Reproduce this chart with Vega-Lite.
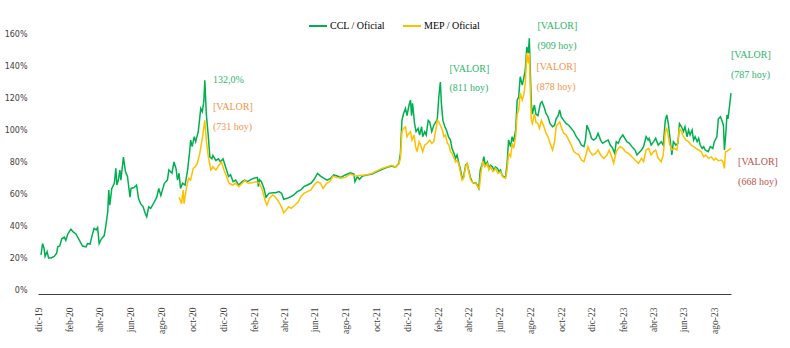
{
"$schema": "https://vega.github.io/schema/vega-lite/v6.json",
"width": 693,
"height": 256,
"autosize": {"type": "none"},
"padding": {"left": 38, "top": 34, "right": 59, "bottom": 58},
"background": "white",
"config": {"view": {"stroke": null}, "font": "Liberation Serif", "axis": {"labelOverlap": false}},
"datasets": {
"ccl": [
{"d":"2019-12-07","v":0.219},{"d":"2019-12-10","v":0.29},{"d":"2019-12-13","v":0.26},{"d":"2019-12-15","v":0.21},{"d":"2019-12-19","v":0.24},{"d":"2019-12-22","v":0.20},{"d":"2019-12-27","v":0.20},
{"d":"2020-01-02","v":0.21},{"d":"2020-01-07","v":0.23},{"d":"2020-01-09","v":0.27},{"d":"2020-01-13","v":0.275},{"d":"2020-01-17","v":0.32},{"d":"2020-01-22","v":0.33},{"d":"2020-01-25","v":0.31},{"d":"2020-01-29","v":0.35},
{"d":"2020-02-04","v":0.38},{"d":"2020-02-08","v":0.365},{"d":"2020-02-14","v":0.35},{"d":"2020-02-21","v":0.31},{"d":"2020-02-27","v":0.275},
{"d":"2020-03-05","v":0.27},{"d":"2020-03-08","v":0.29},{"d":"2020-03-13","v":0.287},{"d":"2020-03-17","v":0.34},{"d":"2020-03-21","v":0.385},{"d":"2020-03-25","v":0.375},{"d":"2020-03-28","v":0.39},{"d":"2020-03-31","v":0.29},
{"d":"2020-04-04","v":0.317},{"d":"2020-04-10","v":0.34},{"d":"2020-04-13","v":0.396},{"d":"2020-04-17","v":0.49},{"d":"2020-04-19","v":0.625},{"d":"2020-04-21","v":0.53},{"d":"2020-04-25","v":0.635},{"d":"2020-04-30","v":0.667},
{"d":"2020-05-03","v":0.76},{"d":"2020-05-05","v":0.656},{"d":"2020-05-08","v":0.687},{"d":"2020-05-11","v":0.75},{"d":"2020-05-13","v":0.687},{"d":"2020-05-18","v":0.83},{"d":"2020-05-22","v":0.74},{"d":"2020-05-26","v":0.71},{"d":"2020-05-31","v":0.58},
{"d":"2020-06-02","v":0.635},{"d":"2020-06-08","v":0.64},{"d":"2020-06-13","v":0.656},{"d":"2020-06-17","v":0.57},{"d":"2020-06-21","v":0.54},{"d":"2020-06-26","v":0.52},{"d":"2020-06-30","v":0.48},
{"d":"2020-07-03","v":0.458},{"d":"2020-07-07","v":0.52},{"d":"2020-07-11","v":0.51},{"d":"2020-07-18","v":0.55},{"d":"2020-07-23","v":0.58},{"d":"2020-07-27","v":0.635},{"d":"2020-07-31","v":0.59},
{"d":"2020-08-07","v":0.667},{"d":"2020-08-13","v":0.687},{"d":"2020-08-16","v":0.75},{"d":"2020-08-22","v":0.73},{"d":"2020-08-26","v":0.80},{"d":"2020-08-30","v":0.76},
{"d":"2020-09-02","v":0.687},{"d":"2020-09-05","v":0.73},{"d":"2020-09-08","v":0.635},{"d":"2020-09-12","v":0.667},{"d":"2020-09-17","v":0.656},{"d":"2020-09-22","v":0.75},{"d":"2020-09-26","v":0.865},{"d":"2020-09-28","v":0.937},
{"d":"2020-10-01","v":0.896},{"d":"2020-10-05","v":0.958},{"d":"2020-10-08","v":0.927},{"d":"2020-10-13","v":0.99},{"d":"2020-10-18","v":1.135},{"d":"2020-10-21","v":1.115},{"d":"2020-10-24","v":1.177},{"d":"2020-10-26","v":1.31},{"d":"2020-10-29","v":1.10},
{"d":"2020-11-02","v":0.958},{"d":"2020-11-05","v":0.83},{"d":"2020-11-09","v":0.82},{"d":"2020-11-11","v":0.84},{"d":"2020-11-17","v":0.81},{"d":"2020-11-22","v":0.82},{"d":"2020-11-26","v":0.80},
{"d":"2020-12-01","v":0.82},{"d":"2020-12-06","v":0.77},{"d":"2020-12-12","v":0.71},{"d":"2020-12-16","v":0.72},{"d":"2020-12-21","v":0.677},{"d":"2020-12-26","v":0.687},
{"d":"2021-01-01","v":0.656},{"d":"2021-01-08","v":0.677},{"d":"2021-01-13","v":0.687},{"d":"2021-01-18","v":0.677},{"d":"2021-01-25","v":0.69},{"d":"2021-01-31","v":0.698},
{"d":"2021-02-07","v":0.704},{"d":"2021-02-09","v":0.646},{"d":"2021-02-11","v":0.69},{"d":"2021-02-15","v":0.677},{"d":"2021-02-20","v":0.635},{"d":"2021-02-24","v":0.58},
{"d":"2021-03-02","v":0.604},{"d":"2021-03-09","v":0.608},{"d":"2021-03-15","v":0.608},{"d":"2021-03-22","v":0.615},{"d":"2021-03-27","v":0.604},{"d":"2021-03-31","v":0.567},
{"d":"2021-04-07","v":0.573},{"d":"2021-04-14","v":0.583},{"d":"2021-04-20","v":0.594},{"d":"2021-04-27","v":0.615},
{"d":"2021-05-04","v":0.625},{"d":"2021-05-10","v":0.646},{"d":"2021-05-17","v":0.656},{"d":"2021-05-24","v":0.667},{"d":"2021-05-30","v":0.69},
{"d":"2021-06-06","v":0.729},{"d":"2021-06-12","v":0.712},{"d":"2021-06-19","v":0.698},{"d":"2021-06-25","v":0.687},
{"d":"2021-07-02","v":0.698},{"d":"2021-07-08","v":0.719},{"d":"2021-07-15","v":0.712},{"d":"2021-07-22","v":0.704},{"d":"2021-07-31","v":0.719},
{"d":"2021-08-10","v":0.733},{"d":"2021-08-17","v":0.725},{"d":"2021-08-19","v":0.677},{"d":"2021-08-24","v":0.708},{"d":"2021-08-28","v":0.692},
{"d":"2021-09-03","v":0.712},{"d":"2021-09-12","v":0.719},{"d":"2021-09-22","v":0.725},
{"d":"2021-10-02","v":0.74},{"d":"2021-10-12","v":0.754},{"d":"2021-10-22","v":0.767},{"d":"2021-10-31","v":0.775},
{"d":"2021-11-07","v":0.767},{"d":"2021-11-14","v":0.792},{"d":"2021-11-17","v":0.854},{"d":"2021-11-20","v":1.06},{"d":"2021-11-23","v":1.10},{"d":"2021-11-27","v":1.135},{"d":"2021-11-30","v":1.09},
{"d":"2021-12-04","v":1.156},{"d":"2021-12-07","v":1.187},{"d":"2021-12-09","v":1.09},{"d":"2021-12-11","v":1.167},{"d":"2021-12-15","v":1.04},{"d":"2021-12-18","v":0.99},{"d":"2021-12-22","v":1.01},{"d":"2021-12-25","v":0.969},{"d":"2021-12-29","v":1.02},{"d":"2021-12-31","v":0.958},
{"d":"2022-01-04","v":0.99},{"d":"2022-01-07","v":0.969},{"d":"2022-01-11","v":1.06},{"d":"2022-01-14","v":1.05},{"d":"2022-01-18","v":0.99},{"d":"2022-01-22","v":1.03},{"d":"2022-01-26","v":1.05},{"d":"2022-01-29","v":1.07},
{"d":"2022-02-01","v":1.208},{"d":"2022-02-04","v":1.30},{"d":"2022-02-06","v":1.167},{"d":"2022-02-09","v":1.06},{"d":"2022-02-13","v":1.02},{"d":"2022-02-16","v":1.00},{"d":"2022-02-20","v":0.958},{"d":"2022-02-24","v":0.937},{"d":"2022-02-27","v":0.885},
{"d":"2022-03-03","v":0.854},{"d":"2022-03-06","v":0.823},{"d":"2022-03-09","v":0.844},{"d":"2022-03-12","v":0.80},{"d":"2022-03-16","v":0.75},{"d":"2022-03-19","v":0.698},{"d":"2022-03-22","v":0.708},{"d":"2022-03-26","v":0.78},{"d":"2022-03-29","v":0.79},
{"d":"2022-04-01","v":0.75},{"d":"2022-04-05","v":0.698},{"d":"2022-04-08","v":0.677},{"d":"2022-04-11","v":0.667},{"d":"2022-04-15","v":0.671},{"d":"2022-04-18","v":0.656},{"d":"2022-04-21","v":0.635},{"d":"2022-04-24","v":0.75},{"d":"2022-04-28","v":0.79},
{"d":"2022-05-01","v":0.833},{"d":"2022-05-04","v":0.78},{"d":"2022-05-08","v":0.80},{"d":"2022-05-11","v":0.76},{"d":"2022-05-14","v":0.78},{"d":"2022-05-18","v":0.77},{"d":"2022-05-21","v":0.75},{"d":"2022-05-24","v":0.77},{"d":"2022-05-28","v":0.76},{"d":"2022-05-31","v":0.74},
{"d":"2022-06-03","v":0.75},{"d":"2022-06-06","v":0.719},{"d":"2022-06-09","v":0.708},{"d":"2022-06-13","v":0.708},{"d":"2022-06-16","v":0.79},{"d":"2022-06-19","v":0.937},{"d":"2022-06-23","v":0.896},{"d":"2022-06-26","v":0.958},{"d":"2022-06-29","v":0.927},
{"d":"2022-07-03","v":1.00},{"d":"2022-07-06","v":1.187},{"d":"2022-07-09","v":1.208},{"d":"2022-07-12","v":1.333},{"d":"2022-07-16","v":1.28},{"d":"2022-07-19","v":1.323},{"d":"2022-07-22","v":1.375},{"d":"2022-07-25","v":1.52},{"d":"2022-07-28","v":1.48},{"d":"2022-07-30","v":1.573},
{"d":"2022-08-01","v":1.354},{"d":"2022-08-03","v":1.167},{"d":"2022-08-05","v":1.10},{"d":"2022-08-09","v":1.156},{"d":"2022-08-12","v":1.10},{"d":"2022-08-16","v":1.09},{"d":"2022-08-21","v":1.167},{"d":"2022-08-24","v":1.177},{"d":"2022-08-28","v":1.146},
{"d":"2022-09-01","v":1.104},{"d":"2022-09-05","v":1.083},{"d":"2022-09-09","v":1.04},{"d":"2022-09-14","v":1.02},{"d":"2022-09-18","v":1.03},{"d":"2022-09-21","v":1.07},{"d":"2022-09-25","v":1.09},{"d":"2022-09-28","v":1.125},
{"d":"2022-10-01","v":1.083},{"d":"2022-10-06","v":1.06},{"d":"2022-10-11","v":1.04},{"d":"2022-10-16","v":1.03},{"d":"2022-10-21","v":1.01},{"d":"2022-10-26","v":0.99},{"d":"2022-10-31","v":0.958},
{"d":"2022-11-05","v":0.937},{"d":"2022-11-10","v":0.906},{"d":"2022-11-15","v":0.896},{"d":"2022-11-18","v":0.937},{"d":"2022-11-21","v":1.03},{"d":"2022-11-26","v":0.99},{"d":"2022-11-30","v":0.948},
{"d":"2022-12-04","v":0.937},{"d":"2022-12-09","v":0.948},{"d":"2022-12-13","v":0.979},{"d":"2022-12-18","v":0.937},{"d":"2022-12-22","v":0.917},{"d":"2022-12-27","v":0.927},
{"d":"2023-01-02","v":0.937},{"d":"2023-01-06","v":0.906},{"d":"2023-01-11","v":0.885},{"d":"2023-01-15","v":0.854},{"d":"2023-01-18","v":0.927},{"d":"2023-01-22","v":0.917},{"d":"2023-01-26","v":0.948},{"d":"2023-01-31","v":0.969},
{"d":"2023-02-04","v":0.948},{"d":"2023-02-08","v":0.927},{"d":"2023-02-13","v":0.917},{"d":"2023-02-18","v":0.896},{"d":"2023-02-24","v":0.875},{"d":"2023-02-28","v":0.844},
{"d":"2023-03-03","v":0.854},{"d":"2023-03-09","v":0.875},{"d":"2023-03-13","v":0.896},{"d":"2023-03-18","v":0.958},{"d":"2023-03-22","v":0.937},{"d":"2023-03-24","v":0.948},{"d":"2023-03-28","v":0.906},
{"d":"2023-04-02","v":0.927},{"d":"2023-04-06","v":0.948},{"d":"2023-04-11","v":0.906},{"d":"2023-04-17","v":0.927},{"d":"2023-04-21","v":0.906},{"d":"2023-04-25","v":1.06},{"d":"2023-04-28","v":1.094},
{"d":"2023-05-01","v":1.04},{"d":"2023-05-04","v":0.958},{"d":"2023-05-08","v":0.844},{"d":"2023-05-11","v":0.927},{"d":"2023-05-16","v":0.906},{"d":"2023-05-20","v":0.917},{"d":"2023-05-23","v":1.04},{"d":"2023-05-27","v":1.02},{"d":"2023-05-31","v":0.99},
{"d":"2023-06-03","v":1.02},{"d":"2023-06-07","v":0.958},{"d":"2023-06-10","v":1.00},{"d":"2023-06-13","v":0.969},{"d":"2023-06-17","v":1.00},{"d":"2023-06-20","v":0.937},{"d":"2023-06-23","v":0.958},{"d":"2023-06-27","v":0.927},{"d":"2023-06-30","v":0.948},
{"d":"2023-07-03","v":0.906},{"d":"2023-07-07","v":0.885},{"d":"2023-07-10","v":0.896},{"d":"2023-07-13","v":0.875},{"d":"2023-07-19","v":0.865},{"d":"2023-07-23","v":0.896},{"d":"2023-07-28","v":0.885},{"d":"2023-07-31","v":0.927},
{"d":"2023-08-05","v":0.958},{"d":"2023-08-08","v":1.07},{"d":"2023-08-12","v":1.083},{"d":"2023-08-15","v":1.06},{"d":"2023-08-18","v":1.03},{"d":"2023-08-20","v":0.875},{"d":"2023-08-23","v":0.99},{"d":"2023-08-25","v":1.094},{"d":"2023-08-27","v":1.07},{"d":"2023-08-30","v":1.146},{"d":"2023-09-02","v":1.23}
],
"mep": [
{"d":"2020-09-05","v":0.58},{"d":"2020-09-10","v":0.54},{"d":"2020-09-13","v":0.625},{"d":"2020-09-15","v":0.54},{"d":"2020-09-20","v":0.646},{"d":"2020-09-24","v":0.698},{"d":"2020-09-28","v":0.687},
{"d":"2020-10-03","v":0.76},{"d":"2020-10-07","v":0.77},{"d":"2020-10-11","v":0.79},{"d":"2020-10-16","v":0.854},{"d":"2020-10-20","v":0.927},{"d":"2020-10-23","v":0.99},{"d":"2020-10-26","v":1.06},{"d":"2020-10-29","v":0.937},
{"d":"2020-11-02","v":0.83},{"d":"2020-11-07","v":0.75},{"d":"2020-11-11","v":0.77},{"d":"2020-11-17","v":0.75},{"d":"2020-11-23","v":0.78},{"d":"2020-11-28","v":0.80},
{"d":"2020-12-03","v":0.75},{"d":"2020-12-08","v":0.71},{"d":"2020-12-13","v":0.667},{"d":"2020-12-20","v":0.656},{"d":"2020-12-26","v":0.667},
{"d":"2021-01-01","v":0.646},{"d":"2021-01-08","v":0.667},{"d":"2021-01-13","v":0.683},{"d":"2021-01-20","v":0.667},{"d":"2021-01-28","v":0.671},
{"d":"2021-02-05","v":0.677},{"d":"2021-02-11","v":0.667},{"d":"2021-02-17","v":0.625},{"d":"2021-02-22","v":0.562},{"d":"2021-02-26","v":0.53},
{"d":"2021-03-03","v":0.573},{"d":"2021-03-09","v":0.594},{"d":"2021-03-14","v":0.583},{"d":"2021-03-19","v":0.562},{"d":"2021-03-23","v":0.542},{"d":"2021-03-28","v":0.51},{"d":"2021-03-31","v":0.483},
{"d":"2021-04-05","v":0.50},{"d":"2021-04-10","v":0.52},{"d":"2021-04-15","v":0.51},{"d":"2021-04-22","v":0.53},{"d":"2021-04-29","v":0.552},
{"d":"2021-05-04","v":0.583},{"d":"2021-05-10","v":0.604},{"d":"2021-05-17","v":0.615},{"d":"2021-05-24","v":0.625},{"d":"2021-05-30","v":0.656},
{"d":"2021-06-06","v":0.677},{"d":"2021-06-12","v":0.667},{"d":"2021-06-17","v":0.635},{"d":"2021-06-24","v":0.667},{"d":"2021-06-30","v":0.677},
{"d":"2021-07-07","v":0.712},{"d":"2021-07-13","v":0.704},{"d":"2021-07-22","v":0.698},{"d":"2021-07-31","v":0.704},
{"d":"2021-08-10","v":0.725},{"d":"2021-08-20","v":0.712},{"d":"2021-09-03","v":0.717},{"d":"2021-09-12","v":0.72},{"d":"2021-09-22","v":0.73},
{"d":"2021-10-02","v":0.746},{"d":"2021-10-12","v":0.76},{"d":"2021-10-22","v":0.77},{"d":"2021-10-31","v":0.78},
{"d":"2021-11-07","v":0.767},{"d":"2021-11-14","v":0.787},{"d":"2021-11-17","v":0.823},{"d":"2021-11-20","v":0.99},{"d":"2021-11-23","v":1.01},{"d":"2021-11-27","v":1.02},{"d":"2021-11-30","v":0.958},
{"d":"2021-12-04","v":0.979},{"d":"2021-12-07","v":0.99},{"d":"2021-12-10","v":0.937},{"d":"2021-12-14","v":0.969},{"d":"2021-12-17","v":0.896},{"d":"2021-12-20","v":0.865},{"d":"2021-12-24","v":0.927},{"d":"2021-12-27","v":0.906},{"d":"2021-12-31","v":0.865},
{"d":"2022-01-04","v":0.906},{"d":"2022-01-09","v":0.917},{"d":"2022-01-14","v":0.937},{"d":"2022-01-18","v":0.917},{"d":"2022-01-22","v":0.927},{"d":"2022-01-26","v":1.00},{"d":"2022-01-29","v":1.06},
{"d":"2022-02-01","v":1.05},{"d":"2022-02-04","v":1.03},{"d":"2022-02-08","v":1.00},{"d":"2022-02-11","v":0.958},{"d":"2022-02-14","v":0.969},{"d":"2022-02-18","v":0.917},{"d":"2022-02-21","v":0.906},{"d":"2022-02-24","v":0.865},{"d":"2022-02-27","v":0.854},
{"d":"2022-03-03","v":0.823},{"d":"2022-03-06","v":0.80},{"d":"2022-03-09","v":0.812},{"d":"2022-03-12","v":0.79},{"d":"2022-03-16","v":0.729},{"d":"2022-03-19","v":0.687},{"d":"2022-03-22","v":0.698},{"d":"2022-03-26","v":0.77},{"d":"2022-03-29","v":0.79},
{"d":"2022-04-01","v":0.74},{"d":"2022-04-05","v":0.687},{"d":"2022-04-09","v":0.671},{"d":"2022-04-15","v":0.667},{"d":"2022-04-19","v":0.646},{"d":"2022-04-22","v":0.635},{"d":"2022-04-26","v":0.75},{"d":"2022-04-29","v":0.80},
{"d":"2022-05-03","v":0.77},{"d":"2022-05-08","v":0.79},{"d":"2022-05-11","v":0.75},{"d":"2022-05-14","v":0.77},{"d":"2022-05-19","v":0.74},{"d":"2022-05-24","v":0.76},{"d":"2022-05-29","v":0.729},
{"d":"2022-06-03","v":0.74},{"d":"2022-06-07","v":0.708},{"d":"2022-06-13","v":0.698},{"d":"2022-06-16","v":0.75},{"d":"2022-06-19","v":0.854},{"d":"2022-06-23","v":0.833},{"d":"2022-06-26","v":0.917},{"d":"2022-06-29","v":0.885},
{"d":"2022-07-03","v":0.958},{"d":"2022-07-06","v":1.10},{"d":"2022-07-09","v":1.125},{"d":"2022-07-12","v":1.23},{"d":"2022-07-16","v":1.187},{"d":"2022-07-19","v":1.219},{"d":"2022-07-22","v":1.29},{"d":"2022-07-25","v":1.48},{"d":"2022-07-28","v":1.417},{"d":"2022-07-30","v":1.48},
{"d":"2022-08-01","v":1.25},{"d":"2022-08-03","v":1.06},{"d":"2022-08-05","v":1.04},{"d":"2022-08-09","v":1.10},{"d":"2022-08-12","v":1.05},{"d":"2022-08-16","v":1.04},{"d":"2022-08-19","v":1.01},{"d":"2022-08-23","v":1.06},{"d":"2022-08-28","v":1.02},
{"d":"2022-09-01","v":0.98},{"d":"2022-09-05","v":0.958},{"d":"2022-09-09","v":0.917},{"d":"2022-09-14","v":0.875},{"d":"2022-09-18","v":0.927},{"d":"2022-09-21","v":1.02},{"d":"2022-09-25","v":1.04},{"d":"2022-09-28","v":1.05},
{"d":"2022-10-01","v":1.02},{"d":"2022-10-06","v":0.98},{"d":"2022-10-11","v":0.969},{"d":"2022-10-16","v":0.937},{"d":"2022-10-21","v":0.906},{"d":"2022-10-26","v":0.865},{"d":"2022-10-31","v":0.854},
{"d":"2022-11-05","v":0.844},{"d":"2022-11-10","v":0.812},{"d":"2022-11-15","v":0.802},{"d":"2022-11-19","v":0.844},{"d":"2022-11-23","v":0.896},{"d":"2022-11-27","v":0.865},
{"d":"2022-12-02","v":0.844},{"d":"2022-12-08","v":0.854},{"d":"2022-12-13","v":0.875},{"d":"2022-12-18","v":0.844},{"d":"2022-12-24","v":0.823},{"d":"2022-12-31","v":0.844},
{"d":"2023-01-04","v":0.875},{"d":"2023-01-09","v":0.833},{"d":"2023-01-13","v":0.792},{"d":"2023-01-18","v":0.865},{"d":"2023-01-22","v":0.885},{"d":"2023-01-26","v":0.896},{"d":"2023-01-31","v":0.885},
{"d":"2023-02-05","v":0.865},{"d":"2023-02-11","v":0.854},{"d":"2023-02-18","v":0.833},{"d":"2023-02-24","v":0.812},
{"d":"2023-03-03","v":0.792},{"d":"2023-03-09","v":0.823},{"d":"2023-03-13","v":0.802},{"d":"2023-03-18","v":0.875},{"d":"2023-03-23","v":0.885},{"d":"2023-03-28","v":0.844},
{"d":"2023-04-02","v":0.865},{"d":"2023-04-06","v":0.875},{"d":"2023-04-11","v":0.823},{"d":"2023-04-17","v":0.802},{"d":"2023-04-21","v":0.844},{"d":"2023-04-25","v":0.99},{"d":"2023-04-28","v":1.01},
{"d":"2023-05-01","v":0.958},{"d":"2023-05-04","v":0.906},{"d":"2023-05-08","v":0.875},{"d":"2023-05-13","v":0.885},{"d":"2023-05-18","v":0.875},{"d":"2023-05-23","v":1.01},{"d":"2023-05-27","v":0.99},{"d":"2023-05-31","v":0.958},
{"d":"2023-06-05","v":0.937},{"d":"2023-06-10","v":0.927},{"d":"2023-06-15","v":0.906},{"d":"2023-06-20","v":0.896},{"d":"2023-06-25","v":0.885},{"d":"2023-06-30","v":0.875},
{"d":"2023-07-05","v":0.865},{"d":"2023-07-10","v":0.833},{"d":"2023-07-14","v":0.844},{"d":"2023-07-20","v":0.823},{"d":"2023-07-25","v":0.833},{"d":"2023-07-30","v":0.812},
{"d":"2023-08-03","v":0.823},{"d":"2023-08-08","v":0.808},{"d":"2023-08-14","v":0.812},{"d":"2023-08-17","v":0.802},{"d":"2023-08-20","v":0.76},{"d":"2023-08-22","v":0.865},{"d":"2023-08-25","v":0.865},{"d":"2023-08-28","v":0.875},{"d":"2023-09-02","v":0.885}
],
"notas": [
{"d":"2020-11-11","v":1.3125,"t":"132,0%","g":"ccl"},
{"d":"2020-11-11","v":1.144,"t":"[VALOR]","g":"mep"},
{"d":"2020-11-11","v":1.019,"t":"(731 hoy)","g":"mep"},
{"d":"2022-02-22","v":1.381,"t":"[VALOR]","g":"ccl"},
{"d":"2022-02-22","v":1.2625,"t":"(811 hoy)","g":"ccl"},
{"d":"2022-08-15","v":1.65,"t":"[VALOR]","g":"ccl"},
{"d":"2022-08-15","v":1.525,"t":"(909 hoy)","g":"ccl"},
{"d":"2022-08-13","v":1.394,"t":"[VALOR]","g":"mep"},
{"d":"2022-08-13","v":1.269,"t":"(878 hoy)","g":"mep"},
{"d":"2023-09-02","v":1.469,"t":"[VALOR]","g":"ccl"},
{"d":"2023-09-02","v":1.344,"t":"(787 hoy)","g":"ccl"},
{"d":"2023-09-16","v":0.80,"t":"[VALOR]","g":"hoy"},
{"d":"2023-09-16","v":0.675,"t":"(668 hoy)","g":"hoy"}
]
},
"encoding": {
"x": {"field": "d", "type": "temporal",
 "scale": {"type": "utc", "nice": false, "domain": [{"year": 2019, "month": 12, "date": 1, "utc": true}, {"year": 2023, "month": 9, "date": 2, "utc": true}]},
 "axis": {"title": null, "grid": false, "ticks": false, "offset": 4, "domainColor": "#404040", "domainWidth": 1.2,
  "values": [
   {"year": 2019, "month": 12, "date": 1, "utc": true},
   {"year": 2020, "month": 2, "date": 1, "utc": true},{"year": 2020, "month": 4, "date": 1, "utc": true},{"year": 2020, "month": 6, "date": 1, "utc": true},{"year": 2020, "month": 8, "date": 1, "utc": true},{"year": 2020, "month": 10, "date": 1, "utc": true},{"year": 2020, "month": 12, "date": 1, "utc": true},
   {"year": 2021, "month": 2, "date": 1, "utc": true},{"year": 2021, "month": 4, "date": 1, "utc": true},{"year": 2021, "month": 6, "date": 1, "utc": true},{"year": 2021, "month": 8, "date": 1, "utc": true},{"year": 2021, "month": 10, "date": 1, "utc": true},{"year": 2021, "month": 12, "date": 1, "utc": true},
   {"year": 2022, "month": 2, "date": 1, "utc": true},{"year": 2022, "month": 4, "date": 1, "utc": true},{"year": 2022, "month": 6, "date": 1, "utc": true},{"year": 2022, "month": 8, "date": 1, "utc": true},{"year": 2022, "month": 10, "date": 1, "utc": true},{"year": 2022, "month": 12, "date": 1, "utc": true},
   {"year": 2023, "month": 2, "date": 1, "utc": true},{"year": 2023, "month": 4, "date": 1, "utc": true},{"year": 2023, "month": 6, "date": 1, "utc": true},{"year": 2023, "month": 8, "date": 1, "utc": true}
  ],
  "labelExpr": "['ene','feb','mar','abr','may','jun','jul','ago','sep','oct','nov','dic'][utcmonth(datum.value)] + '-' + utcFormat(datum.value, '%y')",
  "labelAngle": 270, "labelAlign": "right", "labelBaseline": "middle", "labelPadding": 13,
  "labelFont": "Liberation Serif", "labelFontSize": 9.5, "labelColor": "#404040",
  "labelOverlap": false, "labelBound": false, "labelFlush": false}},
"y": {"field": "v", "type": "quantitative",
 "scale": {"domain": [0, 1.6], "nice": false},
 "axis": {"title": null, "grid": false, "ticks": false, "domain": false, "values": [0, 0.2, 0.4, 0.6, 0.8, 1.0, 1.2, 1.4, 1.6], "format": ".0%",
  "labelOverlap": false, "labelPadding": 11, "labelFont": "DejaVu Sans", "labelFontSize": 8, "labelColor": "#404040"}}
},
"layer": [
{
"data": {"name": "ccl"},
"mark": {"type": "line", "strokeWidth": 1.5, "clip": false},
"encoding": {
"color": {"datum": "CCL / Oficial", "type": "nominal",
 "scale": {"domain": ["CCL / Oficial", "MEP / Oficial"], "range": ["#00B050", "#FFC000"]},
 "legend": {"orient": "none", "legendX": 270, "legendY": -18, "direction": "horizontal", "title": null,
  "symbolType": "stroke", "symbolStrokeWidth": 2, "symbolSize": 324, "labelOffset": 2, "columnPadding": 14, "padding": 0,
  "labelFont": "Liberation Serif", "labelFontSize": 10, "labelColor": "#000000"}}
}
},
{
"data": {"name": "mep"},
"mark": {"type": "line", "strokeWidth": 1.5, "clip": false},
"encoding": {
"color": {"datum": "MEP / Oficial", "type": "nominal"}
}
},
{
"data": {"name": "notas"},
"transform": [{"filter": "datum.g == 'ccl'"}],
"mark": {"type": "text", "align": "left", "baseline": "middle", "font": "Liberation Serif", "fontSize": 10, "color": "#2DB56A"},
"encoding": {"text": {"field": "t"}}
},
{
"data": {"name": "notas"},
"transform": [{"filter": "datum.g == 'mep'"}],
"mark": {"type": "text", "align": "left", "baseline": "middle", "font": "Liberation Serif", "fontSize": 10, "color": "#F0954A"},
"encoding": {"text": {"field": "t"}}
},
{
"data": {"name": "notas"},
"transform": [{"filter": "datum.g == 'hoy'"}],
"mark": {"type": "text", "align": "left", "baseline": "middle", "font": "Liberation Serif", "fontSize": 10, "color": "#C0504D"},
"encoding": {"text": {"field": "t"}}
}
]
}
